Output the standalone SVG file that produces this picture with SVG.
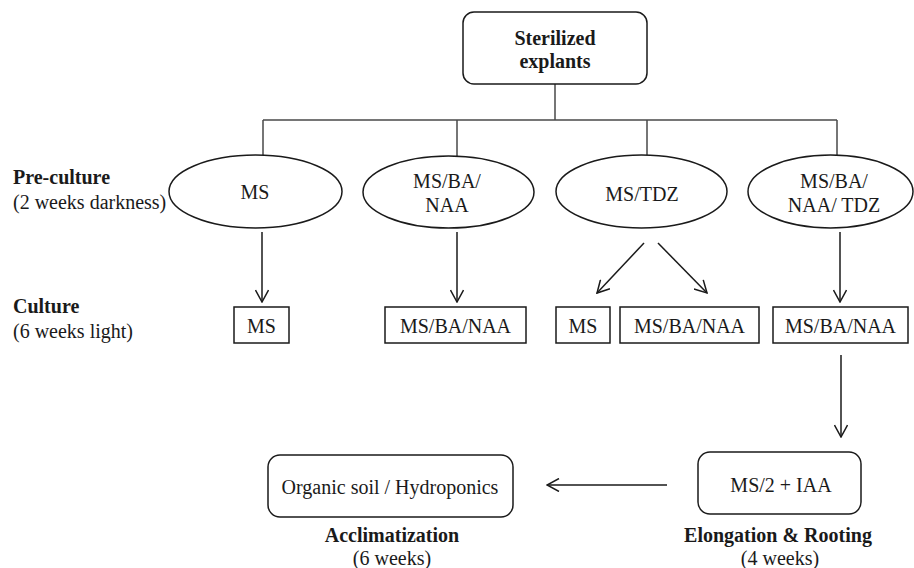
<svg xmlns="http://www.w3.org/2000/svg" width="914" height="568" viewBox="0 0 914 568" font-family="'Liberation Serif', 'Tinos', 'Noto Serif', 'DejaVu Serif', serif">
<defs>
<style>
text{font-family:"Liberation Serif",Tinos,"Noto Serif","DejaVu Serif",serif;font-size:20px;fill:#1a1a1a}
.b{font-weight:bold}
.m{text-anchor:middle}
.shape{fill:#fff;stroke:#1a1a1a;stroke-width:1.5}
.tree{stroke:#4a4a4a;stroke-width:1.5;fill:none}
.arr{stroke:#1a1a1a;stroke-width:1.5;fill:none;marker-end:url(#ah)}
</style>
<marker id="ah" viewBox="0 0 14 14" refX="13" refY="7" markerWidth="14" markerHeight="14" markerUnits="userSpaceOnUse" orient="auto">
<path d="M1,0.5 L13,7 L1,13.5" fill="none" stroke="#1a1a1a" stroke-width="1.5"/>
</marker>
</defs>
<rect width="914" height="568" fill="#fff"/>

<g id="labels">
<text class="b" x="13" y="184">Pre-culture</text>
<text x="13" y="209">(2 weeks darkness)</text>
<text class="b" x="13" y="313">Culture</text>
<text x="13" y="338">(6 weeks light)</text>
<text class="b m" x="392" y="542">Acclimatization</text>
<text class="m" x="392" y="565">(6 weeks)</text>
<text class="b m" x="778" y="542">Elongation &amp; Rooting</text>
<text class="m" x="780" y="565">(4 weeks)</text>
</g>

<g id="connectors">
<path class="tree" d="M555,84 V120 M263,120 H837 M263,120 V155 M457,120 V156 M647,120 V155 M837,120 V155"/>
<path class="arr" d="M262,232 V302"/>
<path class="arr" d="M457,232 V302"/>
<path class="arr" d="M644,243 L597,293"/>
<path class="arr" d="M658,243 L707,293"/>
<path class="arr" d="M840,232 V302"/>
<path class="arr" d="M841,355 V437"/>
<path class="arr" d="M667,485 H547"/>
</g>

<g id="n-sterilized">
<rect class="shape" x="463" y="12" width="184" height="72" rx="11"/>
<text class="b m" x="555" y="45">Sterilized</text>
<text class="b m" x="555" y="68">explants</text>
</g>

<g id="n-pre-ms">
<ellipse class="shape" cx="255.5" cy="191.5" rx="86.5" ry="36.5"/>
<text class="m" x="255" y="199">MS</text>
</g>
<g id="n-pre-msbanaa">
<ellipse class="shape" cx="448.5" cy="192" rx="85.5" ry="36"/>
<text class="m" x="447" y="188">MS/BA/</text>
<text class="m" x="447" y="212">NAA</text>
</g>
<g id="n-pre-mstdz">
<ellipse class="shape" cx="641.5" cy="191.5" rx="85.5" ry="36.5"/>
<text class="m" x="642" y="201">MS/TDZ</text>
</g>
<g id="n-pre-all">
<ellipse class="shape" cx="830.5" cy="191.5" rx="82.5" ry="36.5"/>
<text class="m" x="834" y="188">MS/BA/</text>
<text class="m" x="834" y="212">NAA/ TDZ</text>
</g>

<g id="n-cul-ms1">
<rect class="shape" x="234" y="307" width="55" height="36"/>
<text class="m" x="261.5" y="333">MS</text>
</g>
<g id="n-cul-msbanaa1">
<rect class="shape" x="385" y="307" width="141" height="36"/>
<text class="m" x="455.5" y="333">MS/BA/NAA</text>
</g>
<g id="n-cul-ms2">
<rect class="shape" x="556" y="307" width="54" height="36"/>
<text class="m" x="583" y="333">MS</text>
</g>
<g id="n-cul-msbanaa2">
<rect class="shape" x="620" y="307" width="139" height="36"/>
<text class="m" x="689.5" y="333">MS/BA/NAA</text>
</g>
<g id="n-cul-msbanaa3">
<rect class="shape" x="773" y="307" width="135" height="36"/>
<text class="m" x="840.5" y="333">MS/BA/NAA</text>
</g>

<g id="n-rooting">
<rect class="shape" x="698" y="452" width="163" height="62" rx="12"/>
<text class="m" x="781" y="492">MS/2 + IAA</text>
</g>
<g id="n-acclim">
<rect class="shape" x="268" y="455" width="245" height="62" rx="12"/>
<text class="m" x="390" y="494">Organic soil / Hydroponics</text>
</g>
</svg>
